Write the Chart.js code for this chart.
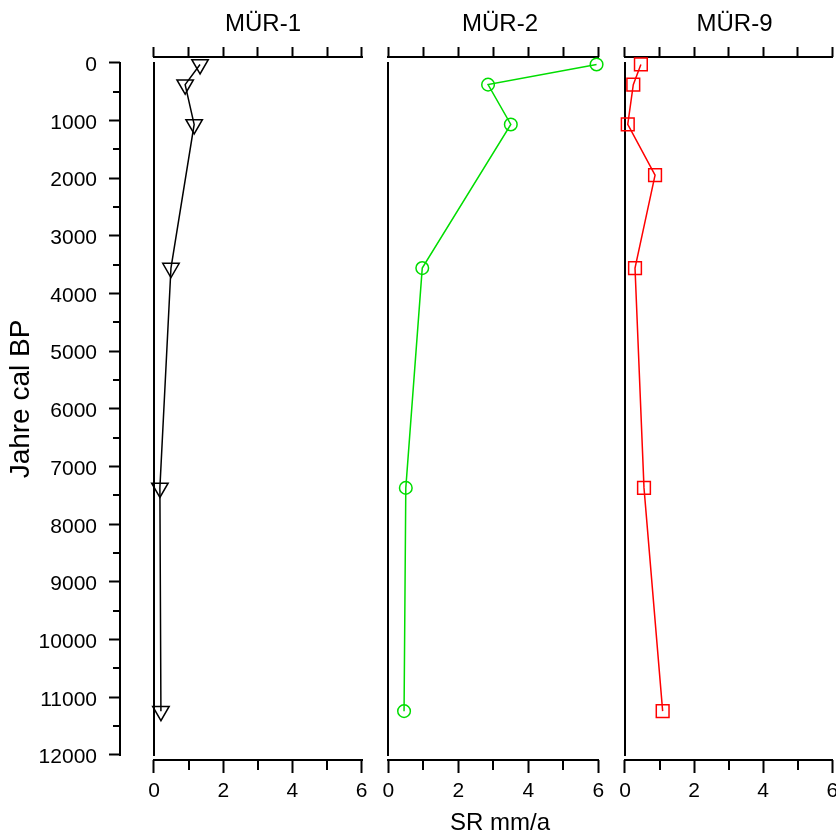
<!DOCTYPE html>
<html><head><meta charset="utf-8">
<script src="https://cdn.jsdelivr.net/npm/chart.js@4/dist/chart.umd.min.js"></script>
<style>
html,body{margin:0;padding:0;background:#fff;overflow:hidden;width:836px;height:839px;position:relative;}
canvas{position:absolute;top:0;background:transparent;}
</style></head><body>
<canvas id="cy" width="150" height="839" style="left:0px"></canvas>
<canvas id="c1" width="250" height="839" style="left:138px"></canvas>
<canvas id="c2" width="252" height="839" style="left:374px"></canvas>
<canvas id="c3" width="249" height="839" style="left:610px"></canvas>
<script>
// ---- data ----
const panelTitles = ['MÜR-1', 'MÜR-2', 'MÜR-9'];
const years12 = [30, 380, 1070, 3560, 7370, 11240];
const years9 = [30, 380, 1070, 1950, 3560, 7370, 11240];
const mur1 = [1.33, 0.90, 1.16, 0.49, 0.17, 0.20];
const mur2 = [5.95, 2.85, 3.50, 0.97, 0.50, 0.45];
const mur9 = [0.46, 0.24, 0.08, 0.87, 0.29, 0.55, 1.09];
const xTicks = [0, 1, 2, 3, 4, 5, 6];
const yTicks = [0, 500, 1000, 1500, 2000, 2500, 3000, 3500, 4000, 4500, 5000, 5500, 6000,
                6500, 7000, 7500, 8000, 8500, 9000, 9500, 10000, 10500, 11000, 11500, 12000];
const xTitle = 'SR mm/a';
const yTitle = 'Jahre cal BP';

Chart.defaults.font.family = "'Liberation Sans', Arial, Helvetica, sans-serif";
Chart.defaults.color = '#000';

const Y_MIN = -99, Y_MAX = 12087;

const rAxes = {
  id: 'rAxes',
  beforeDatasetsDraw(chart, args, o) {
    const ctx = chart.ctx, ca = chart.chartArea;
    ctx.save();
    ctx.strokeStyle = '#000';
    ctx.lineWidth = 2;
    ctx.lineCap = 'square';
    const line = (x1, y1, x2, y2) => { ctx.beginPath(); ctx.moveTo(x1, y1); ctx.lineTo(x2, y2); ctx.stroke(); };
    const ys = chart.scales.y;
    const yTop = Math.round(ys.getPixelForValue(yTicks[0]));
    const yBot = Math.round(ys.getPixelForValue(yTicks[yTicks.length - 1]));
    if (o.kind === 'y') {
      const x = Math.round(ca.left);
      line(x, yTop, x, yBot);
      ctx.lineCap = 'butt';
      yTicks.forEach(v => {
        if (v % 1000 !== 0) { const p = Math.round(ys.getPixelForValue(v)); line(x - 7, p, x, p); }
      });
    } else {
      const xs = chart.scales.x;
      const x0 = Math.round(xs.getPixelForValue(xTicks[0]));
      const x6 = Math.round(xs.getPixelForValue(xTicks[xTicks.length - 1]));
      const t = Math.round(ca.top), b = Math.round(ca.bottom);
      line(x0, t, x6, t);
      line(x0, b, x6, b);
      line(x0, yTop, x0, yBot);
      ctx.lineCap = 'butt';
      xTicks.forEach(v => {
        if (v % 2 !== 0) { const p = Math.round(xs.getPixelForValue(v)); line(p, b, p, b + 10); }
      });
    }
    ctx.restore();
  }
};

const setTicks = vals => s => { s.ticks = vals.map(v => ({ value: v })); };
const fixH = h => s => { s.height = h; s.paddingLeft = 0; s.paddingRight = 0; s.paddingTop = 0; s.paddingBottom = 0; };

new Chart(document.getElementById('cy'), {
  type: 'line',
  data: { datasets: [] },
  plugins: [rAxes],
  options: {
    responsive: false, animation: false, events: [],
    layout: { autoPadding: false, padding: { top: 38, bottom: 79, left: 0, right: 0 } },
    plugins: { legend: { display: false }, tooltip: { enabled: false }, rAxes: { kind: 'y' } },
    scales: {
      x: { type: 'linear', display: false, min: 0, max: 1 },
      y: {
        type: 'linear', position: 'left', min: -428, max: Y_MAX, reverse: true,
        afterBuildTicks: setTicks(yTicks),
        afterFit: s => { s.width = 120; s.paddingTop = 0; s.paddingBottom = 0; },
        border: { display: false },
        grid: { display: true, drawOnChartArea: false, drawTicks: true, tickLength: 11, tickWidth: 2,
                tickColor: c => (c.tick && c.tick.value % 1000 === 0) ? '#000' : 'rgba(0,0,0,0)' },
        ticks: { autoSkip: false, padding: 12, labelOffset: 2.5, font: { size: 21 }, color: '#000',
                 callback: v => (v % 1000 === 0 ? String(v) : '') },
        title: { display: true, text: yTitle, font: { size: 28 }, color: '#000', padding: { top: 4, bottom: 0 } }
      }
    }
  }
});

function panel(id, title, xs, yrs, color, style, radius, rot, xmin, xmax, showXTitle) {
  return new Chart(document.getElementById(id), {
    type: 'line',
    data: {
      datasets: [{
        label: title,
        data: xs.map((v, i) => ({ x: v, y: yrs[i] })),
        borderColor: color, borderWidth: 1.5, tension: 0, fill: false, clip: false,
        pointStyle: style, pointRadius: radius, pointRotation: rot,
        pointBorderColor: color, pointBackgroundColor: 'rgba(0,0,0,0)', pointBorderWidth: 1.5
      }]
    },
    plugins: [rAxes],
    options: {
      responsive: false, animation: false, events: [],
      layout: { autoPadding: false, padding: 0 },
      plugins: { legend: { display: false }, tooltip: { enabled: false }, rAxes: { kind: 'x' } },
      scales: {
        x: {
          type: 'linear', position: 'bottom', min: xmin, max: xmax,
          afterBuildTicks: setTicks(xTicks),
          afterFit: fixH(79),
          border: { display: false },
          grid: { display: true, drawOnChartArea: false, drawTicks: true, tickLength: 13, tickWidth: 2,
                  tickColor: c => (c.tick && c.tick.value % 2 === 0) ? '#000' : 'rgba(0,0,0,0)' },
          ticks: { autoSkip: false, maxRotation: 0, padding: 6, font: { size: 21 }, color: '#000',
                   callback: v => (v % 2 === 0 ? String(v) : '') },
          title: { display: showXTitle, text: xTitle, font: { size: 24 }, color: '#000', padding: { top: 0, bottom: 1 } }
        },
        xTop: {
          type: 'linear', axis: 'x', position: 'top', min: xmin, max: xmax,
          afterBuildTicks: setTicks(xTicks),
          afterFit: fixH(57),
          border: { display: false },
          grid: { display: true, drawOnChartArea: false, drawTicks: true, tickLength: 10, tickWidth: 2, tickColor: '#000' },
          ticks: { display: false },
          title: { display: true, text: title, font: { size: 24 }, color: '#000', padding: { top: 9.6, bottom: 0 } }
        },
        y: { type: 'linear', display: false, min: Y_MIN, max: Y_MAX, reverse: true }
      }
    }
  });
}

panel('c1', panelTitles[0], mur1, years12, '#000000', 'triangle', 9.5, 180, -0.4622, 6.760, false);
panel('c2', panelTitles[1], mur2, years12, '#00DD00', 'circle', 6.3, 0, -0.4086, 6.791, true);
panel('c3', panelTitles[2], mur9, years9, '#FF0000', 'rect', 9, 0, -0.434, 6.773, false);
</script>
</body></html>
